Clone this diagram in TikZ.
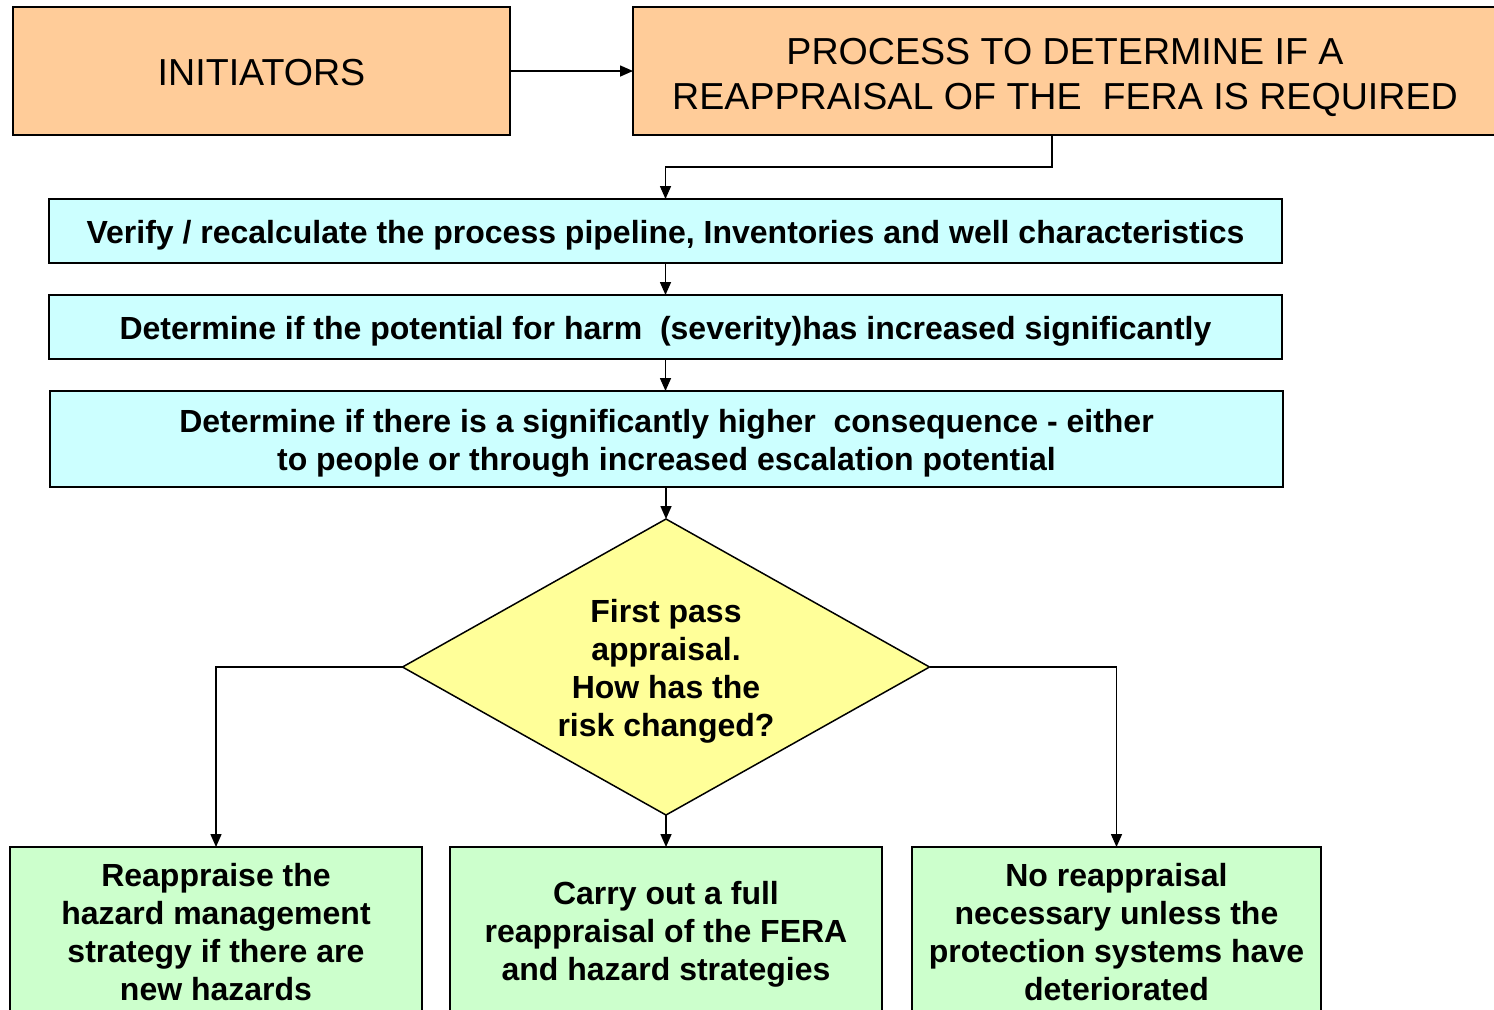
\documentclass[tikz,border=0pt]{standalone}
\usepackage{fontspec}
\setmainfont{Liberation Sans}
\usetikzlibrary{arrows.meta,shapes.geometric}
\definecolor{peach}{HTML}{FFCC99}
\definecolor{cyanbox}{HTML}{CCFFFF}
\definecolor{yelbox}{HTML}{FFFF99}
\definecolor{grnbox}{HTML}{CCFFCC}
\newcommand{\dn}[1]{\rule{0pt}{#1}}
\begin{document}
\begin{tikzpicture}[x=0.5pt,y=-0.5pt,
  box/.style={draw=black, line width=1pt, rectangle, inner sep=0pt, outer sep=0pt, align=center},
  topbox/.style={box, fill=peach, minimum height=64pt, font=\fontsize{18.8}{22.5}\selectfont},
  midbox/.style={box, fill=cyanbox, minimum width=616.5pt, font=\bfseries\fontsize{16}{19}\selectfont},
  endbox/.style={box, fill=grnbox, minimum height=84pt, font=\bfseries\fontsize{16}{19}\selectfont},
  arr/.style={line width=0.75pt, -{Triangle[length=6.5pt,width=5.5pt]}}
]
\useasboundingbox (0,0) rectangle (1494,1009);
\clip (0,0) rectangle (1494,1009);
\node[topbox, minimum width=248.5pt] (init) at (261.5,71) {\dn{14.7pt}INITIATORS};
\node[topbox, minimum width=432pt] (proc) at (1065,71) {\dn{19.7pt}PROCESS TO DETERMINE IF A\\REAPPRAISAL OF THE\ \ FERA IS REQUIRED};
\node[midbox, minimum height=32pt] (verify) at (665.5,231) {\dn{15.5pt}Verify / recalculate the process pipeline, Inventories and well characteristics};
\node[midbox, minimum height=32pt] (harm) at (665.5,327) {\dn{15.5pt}Determine if the potential for harm\ \ (severity)has increased significantly};
\node[midbox, minimum height=48pt] (cons) at (666.5,439) {\dn{15.5pt}Determine if there is a significantly higher\ \ consequence - either\\to people or through increased escalation potential};
\node[draw=black, line width=0.75pt, fill=yelbox, shape=diamond, aspect=1.78, inner sep=0pt, outer sep=0pt,
  minimum width=263.5pt, minimum height=148pt, align=center, font=\bfseries\fontsize{16}{19}\selectfont] (dia) at (666,667)
  {\dn{15.5pt}First pass\\appraisal.\\How has the\\risk changed?};
\node[endbox, minimum width=206pt] (left) at (216,931) {\dn{12.5pt}Reappraise the\\hazard management\\strategy if there are\\new hazards};
\node[endbox, minimum width=216pt] (mid) at (666,931) {\dn{14.7pt}Carry out a full\\reappraisal of the FERA\\and hazard strategies};
\node[endbox, minimum width=204.5pt] (right) at (1116.5,931) {\dn{12.5pt}No reappraisal\\necessary unless the\\protection systems have\\deteriorated};
\coordinate (jog) at (665.5,167);
\draw[arr] (init.east) -- (proc.west);
\draw[arr] ([xshift=-6.5pt]proc.south) |- (jog) -- (verify.north);
\draw[arr] (verify.south) -- (harm.north);
\draw[arr] (harm.south) -- (harm.south |- cons.north);
\draw[arr] (dia.north |- cons.south) -- (dia.north);
\draw[arr] (dia.west) -| (left.north);
\draw[arr] (dia.east) -| (right.north);
\draw[arr] (dia.south) -- (mid.north);
\end{tikzpicture}
\end{document}
